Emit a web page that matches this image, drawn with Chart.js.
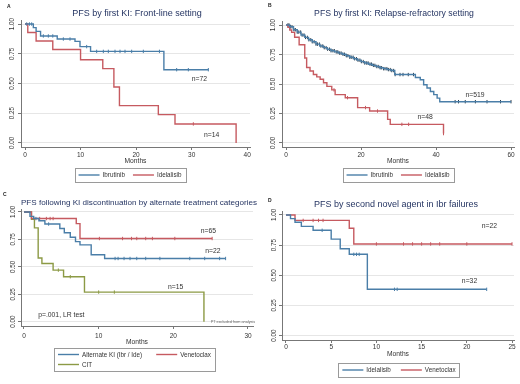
<!DOCTYPE html>
<html>
<head>
<meta charset="utf-8">
<script src="https://cdn.jsdelivr.net/npm/chart.js@4.4.0/dist/chart.umd.min.js"></script>
<style>
html, body { margin: 0; padding: 0; background: #fff; }
#wrap { position: relative; width: 520px; height: 384px; }
canvas { position: absolute; }
</style>
</head>
<body>
<div id="wrap">
  <canvas id="pA" width="260" height="190" style="left:0;top:0"></canvas>
  <canvas id="pB" width="260" height="190" style="left:260px;top:0"></canvas>
  <canvas id="pC" width="260" height="194" style="left:0;top:190px"></canvas>
  <canvas id="pD" width="260" height="194" style="left:260px;top:190px"></canvas>
</div>
<script>
// Panel A: front-line setting
const aIbrTime = [0, 1.5, 2, 2.8, 5.8, 9, 9.9, 11.8, 25, 33];
const aIbrSurv = [1, 0.97, 0.938, 0.9, 0.874, 0.854, 0.81, 0.77, 0.616, 0.616];
const aIbrCens = [0.3, 0.8, 1.2, 3.3, 4.2, 5.0, 6.9, 8.1, 11.1, 12.9, 14.1, 15.0, 16.2, 17.1, 18.0, 19.2, 21.3, 24.2, 27.3, 29.4, 33];
const aIdeTime = [0, 0.5, 2, 5, 10, 14, 16, 17, 24, 27, 38];
const aIdeSurv = [1, 0.929, 0.857, 0.786, 0.7, 0.625, 0.47, 0.314, 0.238, 0.16, 0];
const aIdeCens = [30.3];

// Panel B: relapse-refractory setting
const bIbrTime = [0, 1, 2, 3, 4, 5, 6, 7, 8, 9, 10, 11, 12, 13, 14, 15, 16, 17, 18, 19, 20, 21, 22, 23, 24, 25, 26, 27, 28, 29, 34.5, 35.8, 36.7, 37.6, 38.5, 39.4, 40.3, 41, 60];
const bIbrSurv = [1, 0.985, 0.96, 0.94, 0.915, 0.895, 0.875, 0.858, 0.838, 0.822, 0.808, 0.795, 0.782, 0.772, 0.762, 0.752, 0.74, 0.727, 0.714, 0.702, 0.69, 0.678, 0.668, 0.658, 0.648, 0.638, 0.63, 0.622, 0.614, 0.58, 0.555, 0.536, 0.494, 0.466, 0.437, 0.41, 0.38, 0.35, 0.35];
const bIbrCens = [0.5, 0.8, 1.2, 1.6, 2.1, 2.5, 3, 3.4, 3.9, 4.3, 4.8, 5.2, 5.7, 6.1, 6.6, 7, 7.5, 8, 8.4, 8.9, 9.3, 9.8, 10.2, 10.7, 11.1, 11.6, 12, 12.5, 12.9, 13.4, 13.8, 14.3, 14.7, 15.2, 15.6, 16.1, 16.5, 17, 17.4, 17.9, 18.3, 18.8, 19.2, 19.7, 20.1, 20.6, 21, 21.5, 21.9, 22.4, 22.8, 23.3, 23.7, 24.2, 24.6, 25.1, 25.5, 26, 26.4, 26.9, 27.3, 27.8, 28.2, 28.7, 29.1, 30.4, 31.2, 32.6, 34.0, 45.1, 46, 47.8, 50.5, 53.6, 57.2, 60];
const bIdeTime = [0, 0.5, 1, 1.5, 2.3, 3.5, 5, 5.5, 6.4, 7.3, 8.2, 9.1, 10, 10.9, 12.2, 13.1, 15.8, 19.1, 22.3, 27.1, 27.8, 42];
const bIdeSurv = [1, 0.98, 0.958, 0.938, 0.896, 0.833, 0.72, 0.64, 0.61, 0.58, 0.56, 0.54, 0.51, 0.48, 0.45, 0.41, 0.384, 0.3, 0.271, 0.2, 0.158, 0.08];
const bIdeCens = [12.8, 16.4, 21.2, 24.4, 30.9, 32.7, 42];

// Panel C: after KI discontinuation
const cAltTime = [0, 0.8, 1.3, 2.0, 2.8, 4.8, 5.4, 6.2, 6.9, 7.5, 9.0, 10.8, 27];
const cAltSurv = [1, 0.96, 0.94, 0.92, 0.89, 0.85, 0.81, 0.77, 0.73, 0.7, 0.61, 0.576, 0.576];
const cAltCens = [1.6, 3.3, 12.2, 12.6, 13.4, 14.2, 15.1, 16.3, 18.2, 22.2, 24.2, 26.2, 27];
const cVenTime = [0, 1.0, 7.0, 7.5, 25.2];
const cVenSurv = [1, 0.94, 0.894, 0.758, 0.758];
const cVenCens = [2.1, 3.0, 3.5, 3.9, 10.1, 13.2, 14.4, 15.1, 16.3, 17.2, 20.2, 25.2];
const cCitTime = [0, 1.0, 1.4, 1.9, 2.4, 3.9, 5.3, 8.1, 24.1];
const cCitSurv = [1, 0.933, 0.855, 0.58, 0.53, 0.47, 0.41, 0.27, 0];
const cCitCens = [4.6, 6.2, 10.0, 12.1];

// Panel D: second novel agent in Ibr failures
const dIdeTime = [0, 0.5, 1, 1.7, 3, 5, 6, 7, 9, 22.2];
const dIdeSurv = [1, 0.97, 0.94, 0.906, 0.873, 0.8, 0.72, 0.674, 0.384, 0.384];
const dIdeCens = [4.0, 7.5, 7.8, 8.1, 12.0, 12.3, 22.2];
const dVenTime = [0, 1, 7, 7.5, 25];
const dVenSurv = [1, 0.955, 0.89, 0.76, 0.76];
const dVenCens = [1.9, 3.0, 3.6, 4.1, 10, 13, 14, 15, 16, 17, 20, 25];

const aXTicks = [0, 10, 20, 30, 40];
const bXTicks = [0, 20, 40, 60];
const cXTicks = [0, 10, 20, 30];
const dXTicks = [0, 5, 10, 15, 20, 25];
const yTicks = [0, 0.25, 0.5, 0.75, 1];

const FONT = '"Liberation Sans", Arial, sans-serif';
const BLUE = '#4a7ea8', RED = '#c65a60', GREEN = '#8c9a45';
const TITLE = '#1f2f5e', TXT = '#333';

// survival value in force at time t (for placing censor ticks)
function survAt(times, surv, t) {
  let s = surv[0];
  for (let i = 0; i < times.length; i++) if (times[i] <= t) s = surv[i];
  return s;
}

function curve(label, times, surv, color, pos) {
  return {
    label: label,
    data: times.map((t, i) => ({ x: t, y: surv[i] })),
    borderColor: color, borderWidth: 1.4, stepped: true,
    pointRadius: 0, fill: false, legendPos: pos
  };
}

function censor(times, surv, cens, color) {
  return {
    label: '',
    data: cens.map(t => ({ x: t, y: survAt(times, surv, t) })),
    showLine: false, pointStyle: 'line', pointRotation: 90,
    pointRadius: 1.7, pointBorderWidth: 1, pointBorderColor: color, borderColor: color
  };
}

const panelCfg = {};

// titles, rotated y labels, n= notes and the boxed legend
const kmPanel = {
  id: 'kmPanel',
  afterDraw(chart) {
    const p = panelCfg[chart.canvas.id];
    const ctx = chart.ctx, xs = chart.scales.x, ys = chart.scales.y;
    ctx.save();
    ctx.textBaseline = 'middle';

    ctx.fillStyle = '#222';
    ctx.font = 'bold 5px ' + FONT;
    ctx.textAlign = 'left';
    ctx.fillText(p.letter, p.letterX, p.letterY);

    ctx.fillStyle = TITLE;
    ctx.font = p.titleSize + 'px ' + FONT;
    ctx.textAlign = 'center';
    ctx.fillText(p.title, p.titleX, p.titleY);

    ctx.fillStyle = TXT;
    ctx.font = '6.3px ' + FONT;
    ys.ticks.forEach(t => {
      ctx.save();
      ctx.translate(p.yLabX, ys.getPixelForValue(t.value));
      ctx.rotate(-Math.PI / 2);
      ctx.fillText(t.value.toFixed(2), 0, 0);
      ctx.restore();
    });

    p.notes.forEach(n => {
      ctx.font = (n.size || 6.8) + 'px ' + FONT;
      ctx.textAlign = n.align || 'center';
      ctx.fillStyle = n.color || TXT;
      ctx.fillText(n.text, xs.getPixelForValue(n.x), ys.getPixelForValue(n.y));
    });

    const lg = p.legend;
    const items = chart.data.datasets.filter(d => d.legendPos);
    const LINE = 21, GAP = 3, PADX = 4;
    ctx.font = '6.3px ' + FONT;
    const nCols = Math.max(...items.map(d => d.legendPos[1])) + 1;
    const nRows = Math.max(...items.map(d => d.legendPos[0])) + 1;
    const colW = new Array(nCols).fill(0);
    items.forEach(d => {
      const c = d.legendPos[1];
      colW[c] = Math.max(colW[c], LINE + GAP + ctx.measureText(d.label).width);
    });
    const w = PADX * 2 + colW.reduce((a, b) => a + b, 0) + lg.colGap * (nCols - 1);
    const h = lg.padY * 2 + nRows * lg.rowH;
    const left = lg.left !== undefined ? lg.left : lg.cx - w / 2;
    ctx.strokeStyle = '#9a9a9a';
    ctx.lineWidth = 1;
    ctx.strokeRect(Math.round(left) + 0.5, Math.round(lg.top) + 0.5, Math.round(w), Math.round(h));
    items.forEach(d => {
      const r = d.legendPos[0], c = d.legendPos[1];
      let x0 = left + PADX;
      for (let i = 0; i < c; i++) x0 += colW[i] + lg.colGap;
      const yc = lg.top + lg.padY + lg.rowH * (r + 0.5);
      ctx.strokeStyle = d.borderColor;
      ctx.lineWidth = 1.4;
      ctx.beginPath();
      ctx.moveTo(x0, yc);
      ctx.lineTo(x0 + LINE, yc);
      ctx.stroke();
      ctx.fillStyle = TXT;
      ctx.textAlign = 'left';
      ctx.fillText(d.label, x0 + LINE + GAP, yc + 0.5);
    });
    ctx.restore();
  }
};

function makeKM(id, cfg) {
  panelCfg[id] = cfg.panel;
  return new Chart(document.getElementById(id), {
    type: 'line',
    data: { datasets: cfg.datasets },
    options: {
      responsive: false,
      animation: false,
      events: [],
      layout: { padding: cfg.pad },
      plugins: { legend: { display: false }, tooltip: { enabled: false } },
      scales: {
        x: {
          type: 'linear', min: cfg.xMin, max: cfg.xMax,
          afterBuildTicks: s => { s.ticks = cfg.xTicks.map(v => ({ value: v })); },
          afterFit: s => { s.height = cfg.xH; },
          ticks: { color: TXT, font: { family: FONT, size: 6.5 }, padding: cfg.tickPad, maxRotation: 0, autoSkip: false },
          grid: { drawOnChartArea: false, tickLength: 3, tickColor: '#777' },
          border: { color: '#777' },
          title: { display: true, text: 'Months', color: TXT, font: { family: FONT, size: 6.7 }, padding: 0 }
        },
        y: {
          type: 'linear', min: cfg.yMin, max: cfg.yMax,
          afterBuildTicks: s => { s.ticks = yTicks.map(v => ({ value: v })); },
          afterFit: s => { s.width = cfg.yW; },
          ticks: { display: false },
          grid: { color: '#e6e6e6', tickLength: 3, tickColor: '#777' },
          border: { color: '#777' }
        }
      }
    },
    plugins: [kmPanel]
  });
}

makeKM('pA', {
  datasets: [
    curve('Ibrutinib', aIbrTime, aIbrSurv, BLUE, [0, 0]),
    curve('Idelalisib', aIdeTime, aIdeSurv, RED, [0, 1]),
    censor(aIbrTime, aIbrSurv, aIbrCens, BLUE),
    censor(aIdeTime, aIdeSurv, aIdeCens, RED)
  ],
  pad: { left: 0, top: 20, right: 10, bottom: 25 },
  xMin: -0.72, xMax: 40.5, yMin: -0.034, yMax: 1.034,
  xTicks: aXTicks, xH: 18, yW: 21, tickPad: 1,
  panel: {
    letter: 'A', letterX: 7, letterY: 7,
    title: 'PFS by first KI: Front-line setting', titleSize: 9, titleX: 137, titleY: 14,
    yLabX: 12.5,
    notes: [{ text: 'n=72', x: 31.4, y: 0.538 }, { text: 'n=14', x: 33.6, y: 0.07 }],
    legend: { cx: 130, top: 168, rowH: 11, padY: 1.5, colGap: 8 }
  }
});

makeKM('pB', {
  datasets: [
    curve('Ibrutinib', bIbrTime, bIbrSurv, BLUE, [0, 0]),
    curve('Idelalisib', bIdeTime, bIdeSurv, RED, [0, 1]),
    censor(bIbrTime, bIbrSurv, bIbrCens, '#2e4150'),
    censor(bIdeTime, bIdeSurv, bIdeCens, RED)
  ],
  pad: { left: 0, top: 21, right: 6, bottom: 25 },
  xMin: -1.07, xMax: 60.8, yMin: -0.034, yMax: 1.034,
  xTicks: bXTicks, xH: 18, yW: 22, tickPad: 1,
  panel: {
    letter: 'B', letterX: 8, letterY: 6,
    title: 'PFS by first KI: Relapse-refractory setting', titleSize: 8.7, titleX: 134, titleY: 14,
    yLabX: 13.3,
    notes: [{ text: 'n=519', x: 50.4, y: 0.407 }, { text: 'n=48', x: 37.1, y: 0.218 }],
    legend: { cx: 138, top: 168, rowH: 11, padY: 1.5, colGap: 8 }
  }
});

makeKM('pC', {
  datasets: [
    curve('Alternate KI (Ibr / Ide)', cAltTime, cAltSurv, BLUE, [0, 0]),
    curve('Venetoclax', cVenTime, cVenSurv, RED, [0, 1]),
    curve('CIT', cCitTime, cCitSurv, GREEN, [1, 0]),
    censor(cAltTime, cAltSurv, cAltCens, BLUE),
    censor(cVenTime, cVenSurv, cVenCens, RED),
    censor(cCitTime, cCitSurv, cCitCens, GREEN)
  ],
  pad: { left: 0, top: 19, right: 7, bottom: 38 },
  xMin: -0.4, xMax: 30.67, yMin: -0.039, yMax: 1.027,
  xTicks: cXTicks, xH: 20, yW: 21, tickPad: 3,
  panel: {
    letter: 'C', letterX: 3, letterY: 5,
    title: 'PFS following KI discontinuation by alternate treatment categories', titleSize: 8.1, titleX: 139, titleY: 12.7,
    yLabX: 13.3,
    notes: [
      { text: 'n=65', x: 24.7, y: 0.83 },
      { text: 'n=22', x: 25.3, y: 0.647 },
      { text: 'n=15', x: 20.3, y: 0.314 },
      { text: 'p=.001, LR test', x: 1.9, y: 0.061, align: 'left' },
      { text: 'PT excluded from analysis', x: 25.0, y: 0.0, align: 'left', size: 3.8, color: '#666' }
    ],
    legend: { left: 54, top: 158, rowH: 10, padY: 1.5, colGap: 14 }
  }
});

makeKM('pD', {
  datasets: [
    curve('Idelalisib', dIdeTime, dIdeSurv, BLUE, [0, 0]),
    curve('Venetoclax', dVenTime, dVenSurv, RED, [0, 1]),
    censor(dIdeTime, dIdeSurv, dIdeCens, BLUE),
    censor(dVenTime, dVenSurv, dVenCens, RED)
  ],
  pad: { left: 0, top: 21, right: 6, bottom: 26 },
  xMin: -0.44, xMax: 25.22, yMin: -0.036, yMax: 1.033,
  xTicks: dXTicks, xH: 18, yW: 22, tickPad: 0,
  panel: {
    letter: 'D', letterX: 8, letterY: 11,
    title: 'PFS by second novel agent in Ibr failures', titleSize: 9, titleX: 136, titleY: 15,
    yLabX: 14,
    notes: [{ text: 'n=22', x: 22.5, y: 0.909 }, { text: 'n=32', x: 20.3, y: 0.456 }],
    legend: { cx: 139, top: 173, rowH: 11, padY: 1.5, colGap: 10 }
  }
});
</script>
</body>
</html>
